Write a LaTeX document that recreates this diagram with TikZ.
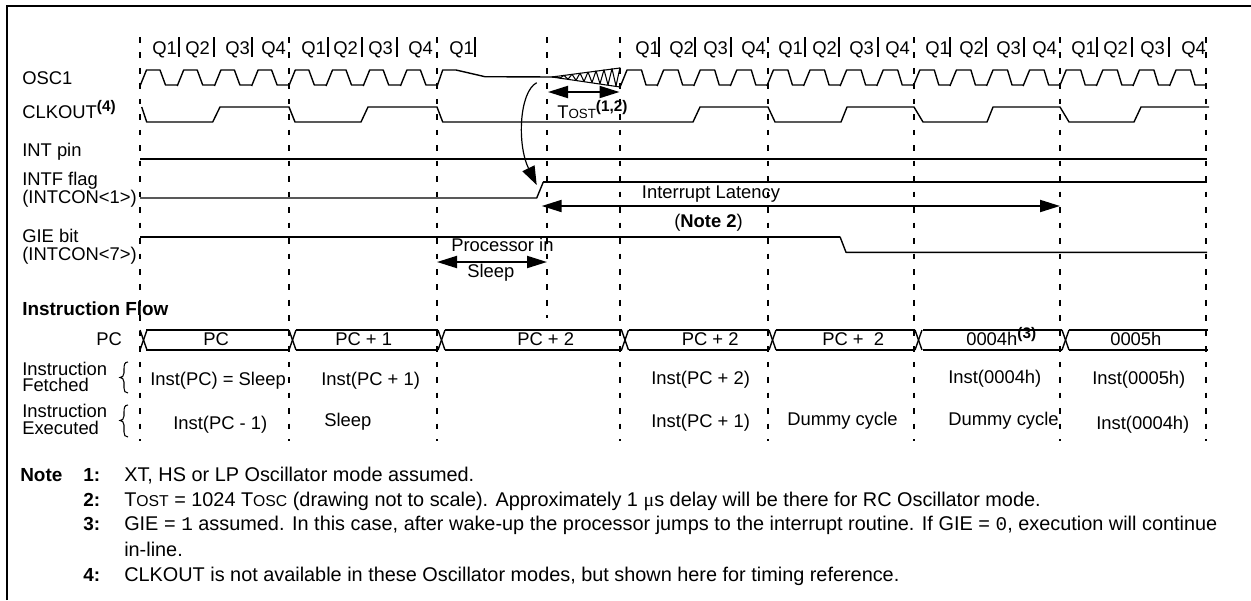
\documentclass[tikz,border=0pt]{standalone}
\usepackage{fontspec}
\setmainfont{Liberation Sans}
\setmonofont{Liberation Mono}
\newfontfamily\symfont{Liberation Serif}
\usetikzlibrary{arrows.meta}
\newcommand{\smc}[1]{{\fontsize{10}{12}\selectfont #1}}
\newcommand{\smcn}[1]{{\fontsize{11.8}{14}\selectfont #1}}
\newcommand{\supb}[1]{\raisebox{5pt}{\fontsize{11.5}{12}\selectfont\bfseries #1}}
\tikzset{
  txt/.style={anchor=base west, inner sep=0pt, font=\fontsize{13.8}{16}\selectfont},
  boldtxt/.style={anchor=base west, inner sep=0pt, font=\fontsize{14.2}{16}\selectfont\bfseries},
  notetxt/.style={anchor=base west, inner sep=0pt, font=\fontsize{14.9}{17}\selectfont},
  wave/.style={line width=1.05pt, line join=round},
  thick wave/.style={line width=1.5pt},
  grid dash/.style={line width=1.5pt, dash pattern=on 4.2pt off 7.4pt},
  qbar/.style={line width=0.95pt},
  dim arrow/.style={line width=1.5pt, {Triangle[length=15pt,width=9pt]}-{Triangle[length=15pt,width=9pt]}},
  wake arrow/.style={line width=0.9pt, -{Triangle[length=14pt,width=10pt]}},
  brace line/.style={line width=0.8pt},
}
\begin{document}
\begin{tikzpicture}[x=0.75pt,y=-0.75pt]
\useasboundingbox (0,0) rectangle (1251,600);
% frame
\draw[line width=1.5pt] (7,600) -- (7,5.5) -- (1251,5.5);
% vertical dashed guides
\foreach \x in {140,289,437,620,768,914,1060,1206}
  \draw[grid dash] (\x,37) -- (\x,441);
\draw[grid dash] (547,37) -- (547,318);
% Q labels
\foreach \i/\x/\t in {a/152/Q1,b/185/Q2,c/225/Q3,d/261/Q4,e/301/Q1,f/333/Q2,g/368/Q3,h/408/Q4,i/449/Q1,
  j/635/Q1,k/669/Q2,l/703/Q3,m/741/Q4,n/778/Q1,o/812/Q2,p/849/Q3,q/885/Q4,r/925/Q1,s/959/Q2,t/996/Q3,u/1032/Q4,v/1071/Q1,w/1103/Q2,x/1140/Q3,y/1181/Q4}
  \node[txt] (q\i) at (\x,54.5) {\t};
\foreach \x in {179,214,252,328,362,397,475,659,695,731,805,839,878,950,986,1024,1097,1132,1169}
  \draw[qbar] (\x,37) -- (\x,57);
% left labels
\node[txt] (osc) at (22,84) {OSC1};
\node[txt] (clk) at (22,118) {CLKOUT\supb{(4)}};
\node[txt] (intp) at (22,156.5) {INT pin};
\node[txt] (intf) at (22,185) {INTF flag};
\node[txt] (intc1) at (22,203) {(INTCON<1>)};
\node[txt] (gie) at (22,242.5) {GIE bit};
\node[txt] (intc7) at (22,260.5) {(INTCON<7>)};
\node[boldtxt] (flow) at (22,315) {Instruction Flow};
\node[txt] (pcl) at (96,345.5) {PC};
\node[txt] (if1) at (22,375) {Instruction};
\node[txt] (if2) at (22,391) {Fetched};
\node[txt] (ie1) at (22,417.5) {Instruction};
\node[txt] (ie2) at (22,434) {Executed};
% braces
\draw[brace line] (128,362) .. controls (124.5,362) and (124,365) .. (124,369) -- (124,373) .. controls (124,376) and (122,377.5) .. (120,377.5) .. controls (122,377.5) and (124,379) .. (124,382) -- (124,388) .. controls (124,391) and (125,393) .. (128,393);
\draw[brace line] (128,405) .. controls (124.5,405) and (124,408) .. (124,412) -- (124,416) .. controls (124,419) and (122,420.5) .. (120,420.5) .. controls (122,420.5) and (124,422) .. (124,425) -- (124,432) .. controls (124,435) and (125,437) .. (128,437);
% OSC1
\foreach \k in {0,...,7}{
  \pgfmathsetmacro\s{140+37.2*\k}
  \draw[wave] (\s,86) -- (\s+6.5,70) -- (\s+20,70) -- (\s+25.5,85) -- (\s+37.2,85);
}
\draw[wave] (437,86.5) -- (442.7,70) -- (456,70) -- (485,76.7) -- (552,77);
\draw[line width=0.8pt] (552,77) -- (620,68);
\draw[line width=0.8pt] (552,77) -- (620,87);
\foreach \k in {1,...,17}{
  \pgfmathsetmacro\xa{552+4*(\k-1)}
  \pgfmathsetmacro\xb{552+4*\k}
  \pgfmathsetmacro\ya{77+(2*mod(\k,2)-1)*(\k-1)/17*9.5}
  \pgfmathsetmacro\yb{77-(2*mod(\k,2)-1)*\k/17*9.5}
  \draw[line width=0.8pt] (\xa,\ya) -- (\xb,\yb);
}
\foreach \k in {0,...,15}{
  \pgfmathsetmacro\s{620.5+36.6*\k}
  \draw[wave] (\s,86) -- (\s+6.5,70) -- (\s+21,70) -- (\s+25.5,85) -- (\s+36.6,85);
}
% CLKOUT
\draw[wave] (141.7,107) -- (146.7,122) -- (212.7,122) -- (220,107) -- (289,107) -- (295,122) -- (361,122) -- (368,107) -- (437,107) -- (442.7,122) -- (693,122) -- (700,107) -- (768,107) -- (775,122) -- (841,122) -- (847,107) -- (914,107) -- (923,122) -- (987,122) -- (993,107) -- (1060,107) -- (1069,122) -- (1134,122) -- (1141,107) -- (1209,107);
% INT pin
\draw[thick wave] (140,159) -- (1207,159);
% INTF
\draw[wave] (140,198) -- (536.7,198) -- (543.3,182);
\draw[thick wave] (543.3,182) -- (1207,182);
% GIE
\draw[thick wave] (140,236.7) -- (840,236.7);
\draw[wave] (840,236.7) -- (846,252.3) -- (1207,252.3);
% PC bus
\foreach \a/\b in {146/289,296/438,445/621.5,629/769,776/915,923/1062,1069/1208}{
  \draw[thick wave] (\a,330) -- (\b,330);
  \draw[thick wave] (\a,350) -- (\b,350);
}
\foreach \a in {140,289,438,621.5,769,915,1062}{
  \draw[wave] (\a,330) -- (\a+7,350);
  \draw[wave] (\a,350) -- (\a+7,330);
}
% bus labels
\node[txt] (pc0) at (203,345.5) {PC};
\node[txt] (pc1) at (335,345.5) {PC + 1};
\node[txt] (pc2) at (517,345.5) {PC + 2};
\node[txt] (pc3) at (681.5,345.5) {PC + 2};
\node[txt] (pc4) at (822,345.5) {PC + \ 2};
\node[txt] (pc5) at (966,345.5) {0004h\supb{(3)}};
\node[txt] (pc6) at (1110,345.5) {0005h};
% fetched
\node[txt] (f0) at (150,385) {Inst(PC) = Sleep};
\node[txt] (f1) at (321,385) {Inst(PC + 1)};
\node[txt] (f2) at (651,384.5) {Inst(PC + 2)};
\node[txt] (f3) at (948,383.5) {Inst(0004h)};
\node[txt] (f4) at (1092,384.5) {Inst(0005h)};
% executed
\node[txt] (e0) at (173,429) {Inst(PC - 1)};
\node[txt] (e1) at (324,426.5) {Sleep};
\node[txt] (e2) at (651,427) {Inst(PC + 1)};
\node[txt] (e3) at (787,425) {Dummy cycle};
\node[txt] (e4) at (948,425) {Dummy cycle};
\node[txt] (e5) at (1096,429.5) {Inst(0004h)};
% annotations
\coordinate (tostL) at (548,92);
\coordinate (tostR) at (619.5,92);
\draw[dim arrow] (tostL) -- (tostR);
\node[txt] (tost) at (557,118) {T\smc{OST}\supb{(1,2)}};
\coordinate (latL) at (541.7,206);
\coordinate (latR) at (1060,206);
\draw[dim arrow] (latL) -- (latR);
\node[txt] (lat) at (641.7,198) {Interrupt Latency};
\node[txt] (note2) at (674,227) {(\textbf{Note 2})};
\coordinate (slpL) at (437,262);
\coordinate (slpR) at (547,262);
\draw[dim arrow] (slpL) -- (slpR);
\node[txt] (procin) at (451,251.7) {Processor in};
\node[txt] (slp) at (467,277) {Sleep};
\coordinate (wakeS) at (536.7,82.7);
\coordinate (wakeE) at (536.7,185);
\draw[wake arrow] (wakeS) .. controls (519,92) and (517,145) .. (wakeE);
% notes
\node[boldtxt] (nt) at (20,481) {Note};
\foreach \n/\y in {1/481,2/506,3/530,4/581}
  \node[boldtxt] (n\n) at (83,\y) {\n:};
\node[notetxt] (t1) at (124,481) {XT, HS or LP Oscillator mode assumed.};
\node[notetxt] (t2) at (124,506) {T\smcn{OST} = 1024 T\smcn{OSC} (drawing not to scale). Approximately 1 {\symfont μ}s delay will be there for RC Oscillator mode.};
\node[notetxt] (t3) at (124,530) {\hbox to 819.75pt{GIE = {\ttfamily\fontsize{14.5}{16}\selectfont 1} assumed. In this case, after wake-up the processor jumps to the interrupt routine. If GIE = {\ttfamily\fontsize{14.5}{16}\selectfont 0}, execution will continue}};
\node[notetxt] (t3b) at (124,556.5) {in-line.};
\node[notetxt] (t4) at (124,581) {CLKOUT is not available in these Oscillator modes, but shown here for timing reference.};
\end{tikzpicture}
\end{document}
